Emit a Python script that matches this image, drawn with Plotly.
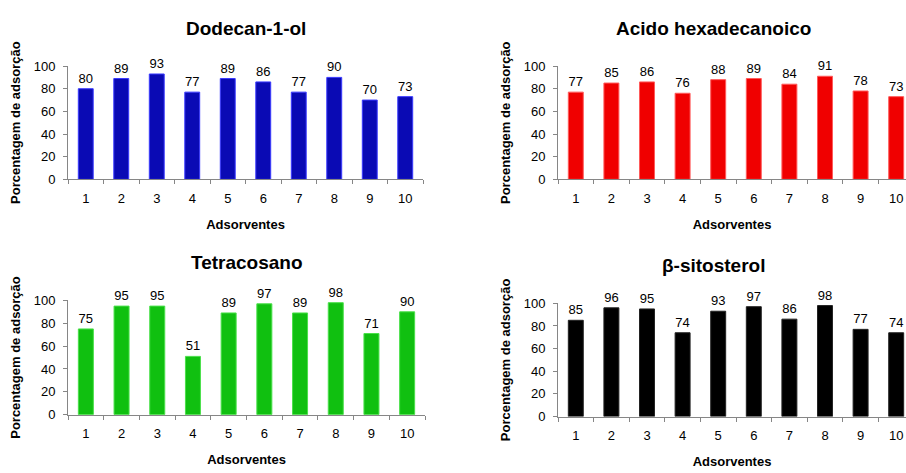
import plotly.graph_objects as go

adsorventes = ["1", "2", "3", "4", "5", "6", "7", "8", "9", "10"]
dodecanol = [80, 89, 93, 77, 89, 86, 77, 90, 70, 73]
hexadecanoico = [77, 85, 86, 76, 88, 89, 84, 91, 78, 73]
tetracosano = [75, 95, 95, 51, 89, 97, 89, 98, 71, 90]
sitosterol = [85, 96, 95, 74, 93, 97, 86, 98, 77, 74]

titles = ["Dodecan-1-ol", "Acido hexadecanoico", "Tetracosano", "β-sitosterol"]
series = [dodecanol, hexadecanoico, tetracosano, sitosterol]
fills = ["#0a0ab4", "#f00000", "#10c010", "#000000"]
edges = ["#3a3aff", "#ff5a5a", "#4ae04a", "#222222"]
y_ticks = [0, 20, 40, 60, 80, 100]

W, H = 906, 473
# pixel boxes: (left, right, bottom(0), top(100))
boxes = [(68, 423, 178, 61), (558, 906, 178, 61), (68, 425, 421, 303), (558, 906, 423, 306)]
cat_w = [35.5, 35.6, 35.7, 35.6]

FONT = "Liberation Sans, Arial, sans-serif"
fig = go.Figure()
layout = dict(width=W, height=H, margin=dict(l=0, r=0, t=0, b=0),
              paper_bgcolor="white", plot_bgcolor="white", showlegend=False,
              font=dict(family=FONT, color="#000000"))
annotations = []
for i, (vals, col, ed) in enumerate(zip(series, fills, edges)):
    n = "" if i == 0 else str(i + 1)
    fig.add_trace(go.Bar(
        x=adsorventes, y=vals, xaxis="x" + n, yaxis="y" + n,
        marker=dict(color=col, line=dict(color=ed, width=1)),
        width=0.42, text=[str(v) for v in vals], textposition="outside",
        textfont=dict(size=13, family=FONT, color="#000000"),
        cliponaxis=False, hoverinfo="skip"))
    l, r, b, t = boxes[i]
    span = (r - l) / cat_w[i]
    layout["xaxis" + n] = dict(
        domain=[l / W, r / W], anchor="y" + n, type="category",
        range=[-0.5, -0.5 + span], tickson="boundaries", ticks="outside",
        ticklen=4, tickcolor="#868686", showline=True, linecolor="#868686",
        linewidth=1, showgrid=False, zeroline=False, ticklabelstandoff=7,
        tickfont=dict(size=13, family=FONT), fixedrange=True,
        title=dict(text="<b>Adsorventes</b>", font=dict(size=13, family=FONT), standoff=14))
    layout["yaxis" + n] = dict(
        domain=[1 - b / H, 1 - t / H], anchor="x" + n, range=[0, 100],
        tickvals=y_ticks, ticks="outside", ticklen=4, tickcolor="#868686",
        showline=True, linecolor="#868686", linewidth=1, showgrid=False,
        zeroline=False, ticklabelstandoff=5,
        tickfont=dict(size=13, family=FONT), fixedrange=True,
        title=dict(text="<b>Porcentagem de adsorção</b>", font=dict(size=13, family=FONT), standoff=10))
    cx = (l + (l + 10 * cat_w[i])) / 2 if i in (0, 2) else 713
    annotations.append(dict(text="<b>" + titles[i] + "</b>", x=cx / W,
                            y=1 - (t - 39) / H, xref="paper", yref="paper",
                            showarrow=False, font=dict(size=19, family=FONT),
                            xanchor="center", yanchor="middle"))
layout["annotations"] = annotations
fig.update_layout(**layout)
fig.write_html("out.html")
